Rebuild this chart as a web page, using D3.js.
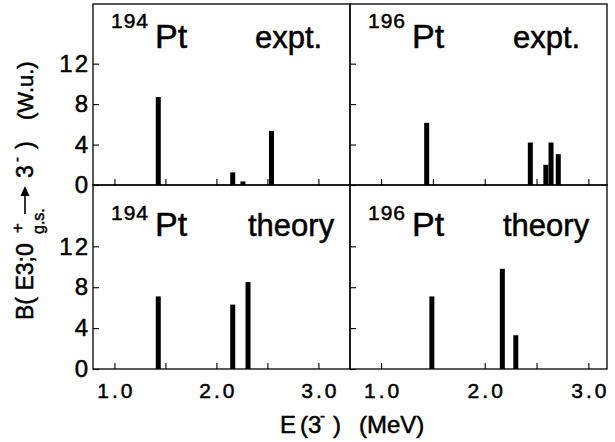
<!DOCTYPE html>
<html>
<head>
<meta charset="utf-8">
<script src="https://cdn.jsdelivr.net/npm/d3@7"></script>
<style>
  body { margin: 0; background: #fff; }
  svg text { font-family: "Liberation Sans", Arial, sans-serif; fill: #000; stroke: #000; stroke-width: 0.5px; }
</style>
</head>
<body>
<svg id="chart" width="615" height="442"></svg>
<script>
// data (energies in MeV, B(E3) in W.u.)
var energies194Expt = [1.43, 2.16, 2.26, 2.54];
var values194Expt = [8.7, 1.25, 0.35, 5.35];
var energies196Expt = [1.44, 2.44, 2.59, 2.64, 2.71];
var values196Expt = [6.15, 4.2, 2.0, 4.2, 3.05];
var energies194Theory = [1.43, 2.16, 2.31];
var values194Theory = [7.1, 6.3, 8.5];
var energies196Theory = [1.49, 2.17, 2.30];
var values196Theory = [7.1, 9.8, 3.3];

var isotopes = ["194", "196"];
var rowNames = ["expt.", "theory"];
var yTicks = [0, 4, 8, 12];
var xTicks = [1.0, 1.5, 2.0, 2.5, 3.0];
var xTickLabels = [1.0, 2.0, 3.0];

var panels = [
  { col: 0, row: 0, e: energies194Expt, v: values194Expt },
  { col: 1, row: 0, e: energies196Expt, v: values196Expt },
  { col: 0, row: 1, e: energies194Theory, v: values194Theory },
  { col: 1, row: 1, e: energies196Theory, v: values196Theory }
];

// layout
var colX = [[93, 350], [350, 607]];
var rowY = [[4, 185], [185, 369]];
var xDomains = [[0.79, 3.31], [0.70, 3.18]];
var yDomains = [[0, 17.9], [0, 18]];
var numY = [28, 220], ptY = [48, 236];
var wordDx = [[162, 163], [155, 153]];

var svg = d3.select("#chart");

panels.forEach(function(p) {
  var x = d3.scaleLinear().domain(xDomains[p.col]).range(colX[p.col]);
  var y = d3.scaleLinear().domain(yDomains[p.row]).range([rowY[p.row][1], rowY[p.row][0]]);
  var g = svg.append("g");

  // inward ticks
  var xAxis = g.append("g")
    .attr("transform", "translate(0," + rowY[p.row][1] + ")")
    .call(d3.axisBottom(x).tickValues(xTicks).tickSize(-6).tickSizeOuter(0).tickFormat(""));
  var yAxis = g.append("g")
    .attr("transform", "translate(" + colX[p.col][0] + ",0)")
    .call(d3.axisLeft(y).tickValues(yTicks).tickSize(-6).tickSizeOuter(0)
      .tickPadding(3).tickFormat(p.col == 0 ? d3.format("d") : ""));
  yAxis.selectAll("text")
    .style("font-size", "24px").style("letter-spacing", "2px");

  if (p.row == 1) {
    var lab = g.append("g")
      .attr("transform", "translate(0," + rowY[p.row][1] + ")")
      .call(d3.axisBottom(x).tickValues(xTickLabels).tickSize(0).tickPadding(14).tickFormat(d3.format(".1f")));
    lab.select(".domain").remove();
    lab.selectAll("text").style("font-size", "21px").style("letter-spacing", "3px")
      .attr("dx", "1.5");
  }
  [xAxis, yAxis].forEach(function(a) {
    a.select(".domain").remove();
    a.selectAll("line").attr("stroke", "#000").attr("stroke-width", 1.1);
  });

  // frame
  g.append("rect")
    .attr("x", colX[p.col][0]).attr("y", rowY[p.row][0])
    .attr("width", colX[p.col][1] - colX[p.col][0])
    .attr("height", rowY[p.row][1] - rowY[p.row][0])
    .attr("fill", "none").attr("stroke", "#000").attr("stroke-width", 1.3);

  // bars
  g.selectAll(".bar")
    .data(p.e)
    .enter()
    .append("rect")
    .attr("class", "bar")
    .attr("x", function(d) { return x(d) - 2.5; })
    .attr("y", function(d, i) { return y(p.v[i]); })
    .attr("width", 5)
    .attr("height", function(d, i) { return y(0) - y(p.v[i]); })
    .attr("fill", "#000");

  // panel label
  var left = colX[p.col][0];
  g.append("text").attr("x", left + 18).attr("y", numY[p.row])
    .style("font-size", "21px").style("letter-spacing", "1px")
    .text(isotopes[p.col]);
  g.append("text").attr("x", left + 62).attr("y", ptY[p.row])
    .style("font-size", "34px").text("Pt");
  g.append("text").attr("x", left + wordDx[p.row][p.col]).attr("y", ptY[p.row])
    .style("font-size", "31px").text(rowNames[p.row]);
});

// y axis title (rotated, reads bottom to top)
var yg = svg.append("g").attr("transform", "translate(33,320) rotate(-90)");
var yt = yg.append("text").style("font-size", "23px");
yt.append("tspan").attr("x", 0).attr("y", 0).text("B( E3;0");
yt.append("tspan").attr("x", 87).attr("y", -10).style("font-size", "17px").text("+");
yt.append("tspan").attr("x", 86).attr("y", 11).style("font-size", "16px").text("g.s.");
yt.append("tspan").attr("x", 142).attr("y", 0).text("3");
yt.append("tspan").attr("x", 158).attr("y", -11).style("font-size", "15px").text("-");
yt.append("tspan").attr("x", 171).attr("y", 0).text(")");
yt.append("tspan").attr("x", 200).attr("y", 0).style("font-size", "22px").text("(W.u.)");
yg.append("line").attr("x1", 106).attr("x2", 126).attr("y1", -8).attr("y2", -8)
  .attr("stroke", "#000").attr("stroke-width", 1.6);
yg.append("path").attr("d", "M124,-12.5L134,-8L124,-3.5Z").attr("fill", "#000");

// x axis title
var xt = svg.append("text").style("font-size", "24px");
xt.append("tspan").attr("x", 280).attr("y", 433).text("E");
xt.append("tspan").attr("x", 300).attr("y", 433).text("(3");
xt.append("tspan").attr("x", 320).attr("y", 421).style("font-size", "15px").text("-");
xt.append("tspan").attr("x", 333).attr("y", 433).text(")");
xt.append("tspan").attr("x", 359).attr("y", 433).text("(MeV)");
</script>
</body>
</html>
